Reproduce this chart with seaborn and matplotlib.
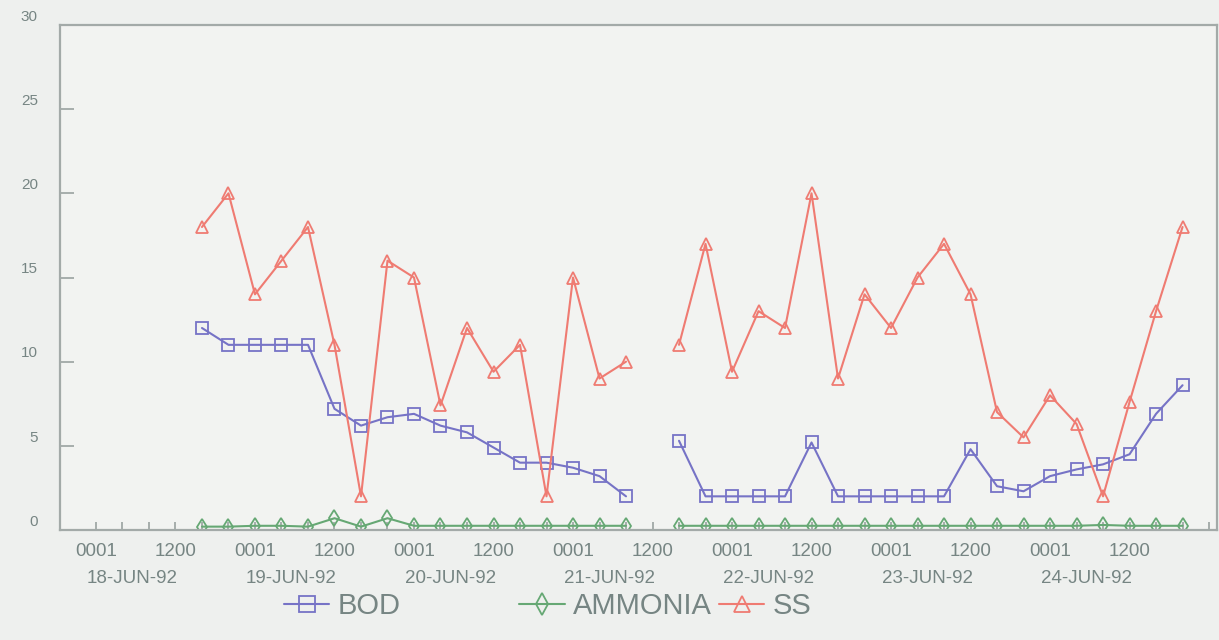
import numpy as np
import pandas as pd
import matplotlib
matplotlib.use("Agg")
import matplotlib.pyplot as plt
from matplotlib.lines import Line2D
from matplotlib.transforms import ScaledTranslation
import seaborn as sns

# samples every 4 hours, starting 18-JUN-92 1600 (hours from 18-JUN 0001)
hours = [16 + 4 * k for k in range(38)]
nan = np.nan
bod = [12, 11, 11, 11, 11, 7.2, 6.2, 6.7, 6.9, 6.2, 5.8, 4.9, 4.0, 4.0, 3.7, 3.2, 2.0,
       nan,
       5.3, 2, 2, 2, 2, 5.2, 2, 2, 2, 2, 2, 4.8, 2.6, 2.3, 3.2, 3.6, 3.9, 4.5, 6.9, 8.6]
ammonia = [0.2, 0.2, 0.25, 0.25, 0.2, 0.7, 0.2, 0.7, 0.25, 0.25, 0.25, 0.25, 0.25, 0.25,
           0.25, 0.25, 0.25,
           nan,
           0.25, 0.25, 0.25, 0.25, 0.25, 0.25, 0.25, 0.25, 0.25, 0.25, 0.25, 0.25, 0.25,
           0.25, 0.25, 0.25, 0.3, 0.25, 0.25, 0.25]
ss = [18, 20, 14, 16, 18, 11, 2, 16, 15, 7.4, 12, 9.4, 11, 2, 15, 9, 10,
      nan,
      11, 17, 9.4, 13, 12, 20, 9, 14, 12, 15, 17, 14, 7, 5.5, 8, 6.3, 2, 7.6, 13, 18]
days = ["18-JUN-92", "19-JUN-92", "20-JUN-92", "21-JUN-92",
        "22-JUN-92", "23-JUN-92", "24-JUN-92"]

df = pd.DataFrame({"hours": hours, "BOD": bod, "AMMONIA": ammonia, "SS": ss})
df["segment"] = np.where(df.index < 17, 0, 1)

txt = "#768583"
sns.set_style("white")
plt.rcParams["font.family"] = ["Liberation Sans", "DejaVu Sans"]

fig = plt.figure(figsize=(12.19, 6.4), dpi=100, facecolor="#eef0ee")
ax = fig.add_axes([60 / 1219, 1 - 530 / 640, (1217 - 60) / 1219, (530 - 25) / 640])
ax.set_facecolor("#f2f3f1")

styles = {"BOD": ("#7673c6", "s", 8),
          "AMMONIA": ("#66a874", "d", 8),
          "SS": ("#ef7b72", "^", 9)}
handles = []
for name, (col, mk, ms) in styles.items():
    sns.lineplot(data=df, x="hours", y=name, units="segment", estimator=None,
                 color=col, marker=mk, markersize=ms, mfc="none", mec=col, mew=1.3,
                 linewidth=1.5, ax=ax, legend=False)
    handles.append(Line2D([], [], color=col, marker=mk, markersize=ms + 3, mfc="none",
                          mec=col, mew=1.3, linewidth=1.5))

ax.set_xlim(-5.43, 169.2)
ax.set_ylim(0, 30)
ax.set_xlabel("")
ax.set_ylabel("")

# x ticks every 4 hours, labelled at 0001 and 1200
major = list(range(0, 170, 4))
labels = []
for h in major:
    if h <= 156 and h % 24 == 0:
        labels.append("0001")
    elif h <= 156 and h % 24 == 12:
        labels.append("1200")
    else:
        labels.append("")
ax.set_xticks(major)
ax.set_xticklabels(labels)
ax.set_xticks([24 * d + 5.5 for d in range(7)], minor=True)
ax.set_xticklabels(days, minor=True)
ax.tick_params(axis="x", which="major", bottom=True, direction="in", length=6,
               width=1.2, color="#9aa2a0", labelsize=13.5, labelcolor=txt, pad=9)
ax.tick_params(axis="x", which="minor", bottom=True, length=0, labelsize=13.5,
               labelcolor=txt, pad=29)

ax.set_yticks(range(0, 31, 5))
ax.tick_params(axis="y", left=True, direction="in", length=10, width=1.2,
               color="#9aa2a0", labelsize=11, labelcolor=txt, pad=16)
for lab in ax.get_yticklabels():
    lab.set_transform(lab.get_transform() + ScaledTranslation(0, 7 / 72, fig.dpi_scale_trans))

for sp in ax.spines.values():
    sp.set_color("#a3aaa8")
    sp.set_linewidth(1.6)

# legend entries spaced like the original
leg_pos = [(0.233, "BOD"), (0.426, "AMMONIA"), (0.59, "SS")]
for hnd, (xpos, name) in zip(handles, leg_pos):
    fig.legend([hnd], [name], loc="center left", bbox_to_anchor=(xpos, 0.053),
               frameon=False, fontsize=21, handlelength=1.55, handletextpad=0.3,
               labelcolor=txt, borderaxespad=0, borderpad=0)

fig.savefig("out.png", dpi=100, facecolor=fig.get_facecolor())
